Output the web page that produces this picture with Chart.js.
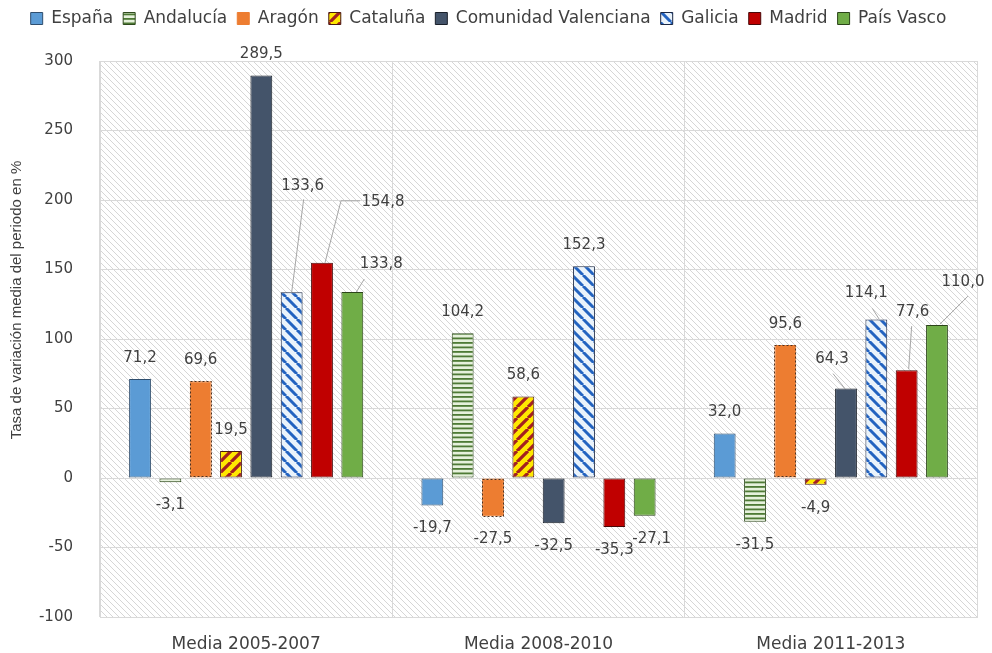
<!DOCTYPE html>
<html><head><meta charset="utf-8">
<script src="https://cdn.jsdelivr.net/npm/chart.js@4.4.1/dist/chart.umd.min.js"></script>
<style>html,body{margin:0;padding:0;background:#fff;} #wrap{width:992px;height:653px;position:relative;}</style>
</head><body><div id="wrap"><canvas id="c" width="992" height="653"></canvas></div>
<script>
// ---- data ----
const categories = ['Media 2005-2007', 'Media 2008-2010', 'Media 2011-2013'];
const seriesNames = ['España', 'Andalucía', 'Aragón', 'Cataluña', 'Comunidad Valenciana', 'Galicia', 'Madrid', 'País Vasco'];
const espana = [71.2, -19.7, 32.0];
const andalucia = [-3.1, 104.2, -31.5];
const aragon = [69.6, -27.5, 95.6];
const cataluna = [19.5, 58.6, -4.9];
const comValenciana = [289.5, -32.5, 64.3];
const galicia = [133.6, 152.3, 114.1];
const madrid = [154.8, -35.3, 77.6];
const paisVasco = [133.8, -27.1, 110.0];
const yMin = -100, yMax = 300, yStep = 50;
const yTitle = 'Tasa de variación media del periodo en %';

const canvas = document.getElementById('c');
const ctx = canvas.getContext('2d');

function tile(w, h, bg, draw) {
  const c = document.createElement('canvas'); c.width = w; c.height = h;
  const g = c.getContext('2d');
  if (bg) { g.fillStyle = bg; g.fillRect(0, 0, w, h); }
  draw(g, w, h);
  return ctx.createPattern(c, 'repeat');
}
function diag(g, s, color, lw, dir) {
  g.strokeStyle = color; g.lineWidth = lw; g.beginPath();
  for (let k = -1; k <= 1; k++) {
    if (dir === 'down') { g.moveTo(k * s, 0); g.lineTo(k * s + s, s); }
    else { g.moveTo(k * s + s, 0); g.lineTo(k * s, s); }
  }
  g.stroke();
}
const bgPattern = tile(6, 6, '#ffffff', (g, s) => diag(g, s, '#d6d6d6', 1, 'down'));
const andPattern = tile(9, 9, '#e6f1dc', (g, w) => { g.fillStyle = '#4e7a35'; g.fillRect(0, 0, w, 1.8); g.fillRect(0, 4.5, w, 1.8); });
const catPattern = tile(11, 11, '#ffe800', (g, s) => diag(g, s, '#a32020', 3.2, 'up'));
const galPattern = tile(11, 11, '#eaf3fb', (g, s) => diag(g, s, '#2363c0', 3, 'down'));

const seriesData = [espana, andalucia, aragon, cataluna, comValenciana, galicia, madrid, paisVasco];
const fills = ['#5B9BD5', andPattern, '#ED7D31', catPattern, '#44546A', galPattern, '#C00000', '#70AD47'];
const borders = ['#2f4e6e', '#2f4a1d', '#ED7D31', '#4a1a10', '#1a202a', '#1a2744', '#4a0808', '#2b4419'];

const callouts = {
  '5-0': { dx: 11, dy: -106, path: [[12, -93], [0, 0]] },
  '6-0': { dx: 61, dy: -61, path: [[38, -62], [19, -62], [3, 0]] },
  '7-0': { dx: 29, dy: -28, path: [[12, -13], [4, 0]] },
  '4-2': { dx: -14, dy: -30, path: [[-13, -15], [-1, 0]] },
  '5-2': { dx: -10, dy: -26, path: [[-4, -11], [3, 0]] },
  '6-2': { dx: 6, dy: -58, path: [[5, -44], [2, -1]] },
  '7-2': { dx: 26, dy: -43, path: [[31, -29], [3, -1]] }
};
const labelShift = { '7-1': [7, 0] };

const legendHeightPlugin = {
  id: 'legendHeight',
  beforeLayout(chart) {
    const lg = chart.legend;
    if (lg && !lg.__patched) {
      const orig = lg.fit;
      lg.fit = function () { orig.call(this); this.height = 61; };
      lg.__patched = true;
    }
  }
};
const bgPlugin = {
  id: 'bgHatch',
  beforeDraw(chart) {
    const a = chart.chartArea, c = chart.ctx;
    c.save(); c.fillStyle = bgPattern; c.fillRect(a.left, a.top, a.right - a.left, a.bottom - a.top); c.restore();
  },
  afterDraw(chart) {
    const c = chart.ctx;
    c.save();
    c.translate(17, 300); c.rotate(-Math.PI / 2);
    c.font = '15px "Liberation Sans"'; c.fillStyle = '#404040';
    c.textAlign = 'center'; c.textBaseline = 'middle';
    c.fillText(yTitle, 0, 0);
    c.restore();
  }
};
const dashPlugin = {
  id: 'dashBorder',
  afterDatasetsDraw(chart) {
    const c = chart.ctx, meta = chart.getDatasetMeta(2);
    c.save(); c.strokeStyle = '#4a3020'; c.lineWidth = 1; c.setLineDash([2, 2]);
    meta.data.forEach(el => {
      const p = el.getProps(['x', 'y', 'base', 'width'], true);
      const top = Math.min(p.y, p.base), h = Math.abs(p.base - p.y);
      c.strokeRect(Math.round(p.x - p.width / 2) + 0.5, Math.round(top) + 0.5, Math.round(p.width) - 1, Math.round(h) - 1);
    });
    c.restore();
  }
};
const labelPlugin = {
  id: 'valueLabels',
  afterDatasetsDraw(chart) {
    const c = chart.ctx;
    c.save();
    c.font = '15px "DejaVu Sans"'; c.fillStyle = '#404040';
    c.textAlign = 'center'; c.textBaseline = 'middle';
    chart.data.datasets.forEach((ds, i) => {
      const meta = chart.getDatasetMeta(i);
      meta.data.forEach((el, j) => {
        const v = ds.data[j];
        const txt = v.toFixed(1).replace('.', ',');
        const key = i + '-' + j;
        const co = callouts[key];
        if (co) {
          c.strokeStyle = '#a6a6a6'; c.lineWidth = 1; c.beginPath();
          co.path.forEach((pt, k) => { const fn = k ? 'lineTo' : 'moveTo'; c[fn](el.x + pt[0], el.y + pt[1]); });
          c.stroke();
          c.fillText(txt, el.x + co.dx, el.y + co.dy);
        } else {
          const sh = labelShift[key] || [0, 0];
          c.fillText(txt, el.x + sh[0], (v >= 0 ? el.y - 21 : el.y + 23) + sh[1]);
        }
      });
    });
    c.restore();
  }
};

new Chart(ctx, {
  type: 'bar',
  data: {
    labels: categories,
    datasets: seriesNames.map((name, i) => ({
      label: name, data: seriesData[i],
      backgroundColor: fills[i], borderColor: borders[i], borderWidth: 1, borderSkipped: false,
      categoryPercentage: 0.83, barPercentage: 0.72
    }))
  },
  options: {
    responsive: false, animation: false, maintainAspectRatio: false,
    layout: { padding: { top: 0, left: 0, right: 15, bottom: 0 } },
    plugins: {
      legend: {
        position: 'top',
        labels: { boxWidth: 12, boxHeight: 12, padding: 10, color: '#404040', font: { family: 'DejaVu Sans', size: 17 } }
      },
      tooltip: { enabled: false }
    },
    scales: {
      x: {
        grid: { offset: true, color: '#d9d9d9', drawTicks: false },
        border: { color: '#d9d9d9' },
        ticks: { color: '#404040', font: { family: 'DejaVu Sans', size: 17 }, padding: 17 },
        afterFit(s) { s.height = 34; }
      },
      y: {
        min: yMin, max: yMax,
        grid: { color: '#d9d9d9', drawTicks: false },
        border: { color: '#d9d9d9' },
        ticks: { stepSize: yStep, color: '#404040', font: { family: 'DejaVu Sans', size: 15 }, padding: 27 },
        afterFit(s) { s.width = 100; }
      }
    }
  },
  plugins: [legendHeightPlugin, bgPlugin, dashPlugin, labelPlugin]
});
</script></body></html>
